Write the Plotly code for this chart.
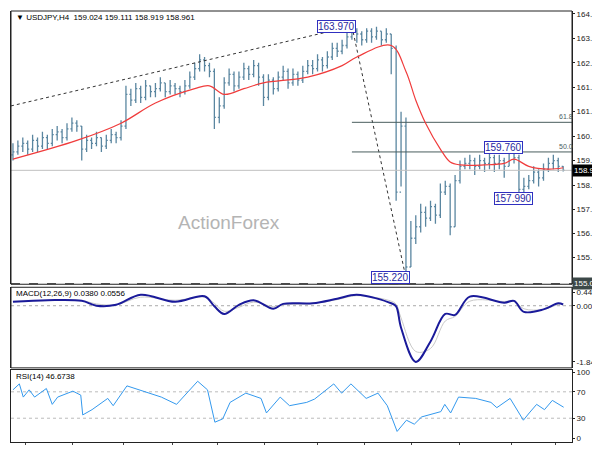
import plotly.graph_objects as go

# price bars, H4 (bar index on x)
close = [159.6,159.8,159.9,159.7,160.0,159.8,160.1,159.9,160.2,160.3,
         160.1,160.4,160.6,160.5,159.7,160.0,159.9,160.1,159.8,160.0,
         160.2,160.1,160.5,161.6,161.4,161.8,161.5,161.9,161.7,161.8,
         162.0,161.7,161.9,161.8,161.7,161.9,162.2,162.5,162.8,162.6,
         162.4,160.8,161.2,162.0,162.3,161.9,162.2,162.5,162.3,162.6,
         162.2,161.5,162.1,161.8,162.2,162.4,162.0,162.3,162.1,162.4,
         162.6,162.5,162.8,162.6,162.9,163.2,163.1,163.3,163.6,163.8,
         163.7,163.5,163.8,163.6,163.8,163.5,163.7,163.2,158.2,160.5,
         155.6,156.6,157.0,157.5,157.3,157.7,157.4,158.2,158.4,157.0,
         158.6,159.1,159.2,159.3,159.1,159.3,159.2,159.4,159.2,159.3,
         159.1,159.6,159.4,158.3,158.4,158.6,158.9,158.7,159.0,159.2,
         159.3,159.1,158.961]
high = [159.9,160.0,160.1,160.0,160.2,160.1,160.3,160.2,160.4,160.5,
        160.4,160.6,160.8,160.7,160.5,160.2,160.1,160.3,160.1,160.2,
        160.4,160.3,160.7,161.9,161.8,162.0,161.9,162.1,161.9,162.0,
        162.2,162.0,162.1,162.0,161.9,162.1,162.4,162.7,163.0,162.9,
        162.7,162.5,161.5,162.2,162.5,162.4,162.4,162.7,162.6,162.8,
        162.7,162.3,162.3,162.2,162.4,162.6,162.5,162.5,162.4,162.6,
        162.8,162.8,163.0,162.9,163.1,163.4,163.4,163.5,163.8,163.97,
        163.9,163.8,163.9,163.9,163.95,163.8,163.9,163.7,163.3,161.0,
        160.8,157.2,157.4,157.8,157.7,157.9,157.8,158.5,158.6,158.5,
        158.8,159.3,159.4,159.5,159.4,159.5,159.4,159.6,159.5,159.5,
        159.4,159.76,159.7,159.5,158.7,158.8,159.1,159.0,159.2,159.4,
        159.5,159.4,159.111]
low = [159.3,159.5,159.6,159.5,159.6,159.6,159.7,159.7,159.8,160.0,
       159.9,160.0,160.3,160.3,159.3,159.6,159.7,159.8,159.6,159.7,
       159.9,159.9,160.0,160.4,161.2,161.3,161.3,161.4,161.5,161.5,
       161.7,161.5,161.6,161.6,161.5,161.6,161.8,162.1,162.4,162.4,
       162.2,160.4,160.6,161.1,161.9,161.7,161.8,162.1,162.1,162.2,
       161.9,161.2,161.4,161.6,161.7,162.1,161.8,161.9,161.9,162.0,
       162.3,162.3,162.4,162.4,162.5,162.8,162.9,163.0,163.2,163.5,
       163.4,163.3,163.4,163.4,163.5,163.3,163.4,162.3,157.9,158.4,
       155.22,155.6,156.4,156.8,157.0,157.2,157.1,157.3,158.1,156.7,
       157.0,158.5,159.0,159.0,158.8,159.0,158.9,159.0,158.9,159.0,
       158.7,159.1,159.2,157.99,158.1,158.3,158.5,158.4,158.6,158.9,
       159.0,158.9,158.919]
first_open = 159.5
bars = list(range(len(close)))
opens = [first_open] + close[:-1]

# moving average (red)
ma_x = [0, 13, 22, 29, 37, 40, 43, 47, 51, 60, 67, 70, 77, 80, 82, 84, 87, 89, 91, 96, 100, 102, 105, 109, 112]
ma_y = [159.35, 160.0, 160.6, 161.3, 161.8, 161.9, 161.6, 161.8, 162.0, 162.2, 162.6, 162.9, 163.3, 162.4,
        161.4, 160.6, 159.7, 159.25, 159.15, 159.15, 159.2, 159.35, 159.1, 159.0, 159.05]

# MACD(12,26,9)
macd_x = [0, 7, 14, 17, 21, 26, 33, 39, 41, 43, 46, 49, 53, 55, 61, 66, 70, 77, 78, 79, 82, 85, 88, 90, 93, 100, 102, 104, 108, 111, 112]
macd_y = [0.13, 0.18, 0.16, 0.0, 0.03, 0.36, 0.13, 0.31, -0.02, -0.27, 0.03, 0.18, -0.1, 0.06, 0.08, 0.23, 0.36,
          0.08, -0.02, -0.72, -1.84, -1.17, -0.27, -0.3, 0.30, 0.10, 0.16, -0.2, -0.12, 0.08, 0.04]
signal_y = [0.14, 0.17, 0.17, 0.06, 0.03, 0.28, 0.18, 0.28, 0.08, -0.18, -0.05, 0.12, -0.03, 0.03, 0.07, 0.2, 0.33,
            0.15, 0.05, -0.4, -1.5, -1.4, -0.5, -0.35, 0.15, 0.14, 0.15, -0.1, -0.12, 0.04, 0.05]

# RSI(14)
rsi_x = [0, 1.3, 2.1, 3.3, 4.4, 6.8, 8, 9.1, 12.2, 13.8, 14.2, 16.1, 19.3, 20.4, 23.2, 26.3, 30.2, 33.3, 37.6, 39.6,
         41.1, 42.7, 44.2, 47.4, 50.5, 51.6, 54.4, 56.3, 59.8, 61.4, 65.3, 66.9, 68.8, 71.9, 74.3, 76.2, 78.2, 80.1,
         81.7, 83.2, 87.1, 87.9, 89.1, 90.7, 94.2, 97.3, 98.5, 101.2, 103.9, 105.1, 106.6, 108.2, 109.8, 112.1]
rsi_y = [73, 82, 62, 73, 62, 75, 51, 62, 71, 65, 35, 43, 60, 49, 79, 71, 62, 51, 86, 73,
         24, 29, 54, 68, 60, 38, 62, 49, 54, 59, 82, 68, 82, 60, 68, 49, 10, 27,
         21, 32, 40, 51, 38, 62, 60, 54, 46, 60, 27, 38, 51, 43, 57, 46.67]

# drawings
trend_x = [-0.4, 69]
trend_y = [161.2, 163.97]
swing_x = [69, 80]
swing_y = [163.97, 155.22]
fib_levels = [160.63, 159.60]
fib_names = ["61.8", "50.0"]
support = 155.01
last_price = 158.961

tick_pos = [2.6, 12.2, 22.5, 32.5, 41.6, 51.3, 61.9, 71.6, 81.1, 90.9, 101.4, 110.5]
tick_text = ["1 Jun 2026", "9 Jun 04:00", "16 Jun 12:00", "23 Jun 20:00", "1 Jul 04:00", "8 Jul 12:00",
             "15 Jul 20:00", "23 Jul 04:00", "30 Jul 12:00", "6 Aug 20:00", "14 Aug 04:00", "21 Aug 12:00"]
price_ticks = [164.4, 163.55, 162.7, 161.85, 161.0, 160.15, 159.3, 158.45, 157.6, 156.775, 155.925]

FONT = "Liberation Sans"
fig = go.Figure()

fig.add_trace(go.Scatter(x=trend_x, y=trend_y, mode="lines", line=dict(color="#333", width=1, dash="dot")))
fig.add_trace(go.Scatter(x=swing_x, y=swing_y, mode="lines", line=dict(color="#333", width=1, dash="dot")))
for lv in fib_levels:
    fig.add_trace(go.Scatter(x=[69, 113.8], y=[lv, lv], mode="lines", line=dict(color="#4a5e5e", width=1)))
fig.add_trace(go.Scatter(x=[-0.4, 113.8], y=[last_price, last_price], mode="lines", line=dict(color="#c0c0c0", width=1)))
fig.add_trace(go.Scatter(x=[-0.4, 113.8], y=[support, support], mode="lines", line=dict(color="#222", width=1.5, dash="dash")))
fig.add_trace(go.Ohlc(x=bars, open=opens, high=high, low=low, close=close, tickwidth=0.3,
                      increasing_line_color="#5a86a0", decreasing_line_color="#5a86a0", line_width=1.3))
fig.add_trace(go.Scatter(x=ma_x, y=ma_y, mode="lines", line=dict(color="#f03c3c", width=1.2, shape="spline")))

fig.add_trace(go.Scatter(x=[-0.4, 113.8], y=[0, 0], mode="lines", line=dict(color="#aaa", width=1, dash="dot"), yaxis="y2"))
fig.add_trace(go.Scatter(x=macd_x, y=signal_y, mode="lines", line=dict(color="#c8c8c8", width=1, shape="spline"), yaxis="y2"))
fig.add_trace(go.Scatter(x=macd_x, y=macd_y, mode="lines", line=dict(color="#1a1a9a", width=2, shape="spline"), yaxis="y2"))

for lv in [70, 30]:
    fig.add_trace(go.Scatter(x=[-0.4, 113.8], y=[lv, lv], mode="lines", line=dict(color="#bbb", width=1, dash="dot"), yaxis="y3"))
fig.add_trace(go.Scatter(x=rsi_x, y=rsi_y, mode="lines", line=dict(color="#3399ee", width=1), yaxis="y3"))

ann = []
def box(x, y, t, xa="x", ya="y"):
    ann.append(dict(x=x, y=y, xref=xa, yref=ya, text=t, showarrow=False, bgcolor="white",
                    bordercolor="#3030c0", borderwidth=1, borderpad=0, font=dict(color="#2828a0", size=10, family=FONT)))
box(65.8, 163.97, "163.970")
box(76.8, 155.22, "155.220")
box(99.8, 159.76, "159.760")
box(101.8, 157.99, "157.990")
for lv, nm in zip(fib_levels, fib_names):
    ann.append(dict(x=112.5, y=lv, xref="x", yref="y", text=nm, showarrow=False, yanchor="bottom",
                    font=dict(color="#4a5e5e", size=7, family=FONT)))
ann.append(dict(x=1.0, y=last_price, xref="paper", yref="y", text="158.961", showarrow=False, xanchor="left",
                bgcolor="black", font=dict(color="white", size=8, family=FONT), borderpad=1))
ann.append(dict(x=1.0, y=support, xref="paper", yref="y", text="155.010", showarrow=False, xanchor="left",
                bgcolor="#3c4848", font=dict(color="white", size=8, family=FONT), borderpad=1))
ann.append(dict(x=44, y=157.15, xref="x", yref="y", text="ActionForex", showarrow=False,
                font=dict(color="#b4b4b4", size=19, family=FONT)))
ann.append(dict(x=0.005, y=1.0, xref="paper", yref="paper", text="▼ USDJPY,H4  159.024 159.111 158.919 158.961",
                showarrow=False, xanchor="left", yanchor="top", font=dict(size=8, color="black", family=FONT)))
ann.append(dict(x=0.005, y=0.359, xref="paper", yref="paper", text="MACD(12,26,9) 0.0380 0.0556",
                showarrow=False, xanchor="left", yanchor="top", font=dict(size=8, color="black", family=FONT)))
ann.append(dict(x=0.005, y=0.167, xref="paper", yref="paper", text="RSI(14) 46.6738",
                showarrow=False, xanchor="left", yanchor="top", font=dict(size=8, color="black", family=FONT)))

axis_common = dict(side="right", showgrid=False, showline=True, linecolor="#222", mirror=True, ticks="outside",
                   ticklen=2, tickcolor="#222", tickfont=dict(size=8, family=FONT, color="#222"), zeroline=False)
fig.update_layout(
    width=600, height=450, margin=dict(l=3, r=36, t=1, b=13), showlegend=False,
    paper_bgcolor="white", plot_bgcolor="white", annotations=ann,
    xaxis=dict(range=[-0.4, 113.8], tickvals=tick_pos, ticktext=tick_text, showgrid=False, showline=True,
               linecolor="#222", mirror=True, ticks="outside", ticklen=2, tickangle=0,
               tickfont=dict(size=8, family=FONT, color="#222"),
               rangeslider=dict(visible=False), anchor="y3", zeroline=False),
    yaxis=dict(domain=[0.366, 1], range=[155.0, 164.5], tickvals=price_ticks,
               ticktext=[f"{v:.3f}" for v in price_ticks], **axis_common),
    yaxis2=dict(domain=[0.172, 0.359], range=[-2.036, 0.605], tickvals=[0.4437, 0, -1.8428],
                ticktext=["0.4437", "0.00", "-1.8428"], **axis_common),
    yaxis3=dict(domain=[0, 0.167], range=[-6, 103], tickvals=[100, 70, 30, 0], **axis_common),
)
# frame lines for the upper panels that share x
fig.add_shape(type="rect", xref="paper", yref="paper", x0=0, x1=1, y0=0.366, y1=1, line=dict(color="#222", width=1))
fig.add_shape(type="rect", xref="paper", yref="paper", x0=0, x1=1, y0=0.172, y1=0.359, line=dict(color="#222", width=1))

fig.write_html("out.html")
